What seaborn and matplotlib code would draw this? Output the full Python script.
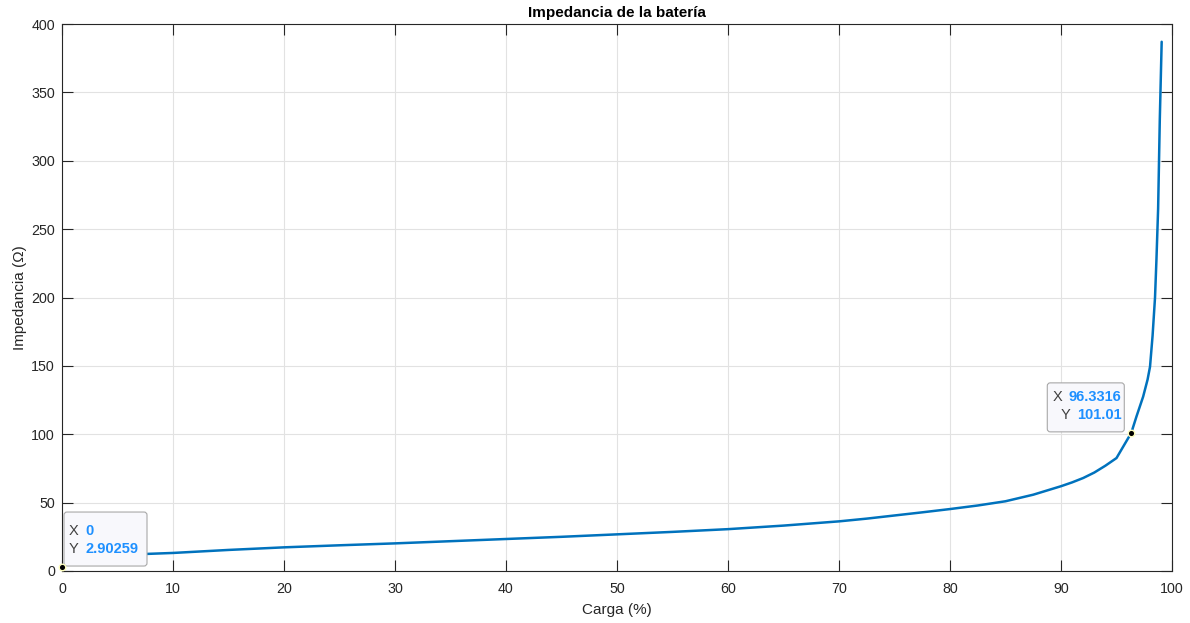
import matplotlib
matplotlib.use("Agg")
import matplotlib.pyplot as plt
import seaborn as sns
import pandas as pd
from matplotlib.offsetbox import TextArea, HPacker, VPacker, AnnotationBbox
from matplotlib.patches import FancyBboxPatch
from matplotlib.transforms import Affine2D

# Battery impedance versus state of charge
carga = [0, 0.5, 1, 2, 3, 5, 7, 10, 15, 20, 25, 30, 35, 40, 45, 50, 55, 60,
         65, 70, 72.5, 75, 77.5, 80, 82.5, 85, 87.5, 90, 91, 92, 93, 94, 95,
         96.3316, 96.8, 97.4, 97.8, 98.02, 98.25, 98.47, 98.6, 98.75, 98.9,
         99.07]
impedancia = [2.90259, 6.5, 8.5, 9.8, 10.6, 11.5, 12.3, 13.2, 15.4, 17.3,
              18.8, 20.2, 21.8, 23.4, 25.0, 26.8, 28.6, 30.6, 33.2, 36.3,
              38.3, 40.6, 42.9, 45.3, 47.9, 51.0, 55.8, 62.0, 64.8, 68.0,
              72.0, 77.0, 82.6, 101.01, 113.0, 127.5, 140.0, 149.4, 172.0,
              200.0, 228.0, 265.0, 330.0, 387.0]

# Data tips: (x, y, shown x text, shown y text)
tips_x = [0, 96.3316]
tips_y = [2.90259, 101.01]
tips_xtxt = ["0", "96.3316"]
tips_ytxt = ["2.90259", "101.01"]

x_ticks = list(range(0, 101, 10))
y_ticks = list(range(0, 401, 50))

df = pd.DataFrame({"Carga": carga, "Impedancia": impedancia})

sns.set_theme(style="whitegrid")
plt.rcParams["font.family"] = ["Liberation Sans", "DejaVu Sans"]

DARK = "#262626"
BLUE = "#0072BD"

fig = plt.figure(figsize=(11.9, 6.23), dpi=100)
ax = fig.add_axes([62 / 1190, 1 - 571 / 623, 1110 / 1190, 547 / 623])
ax.set_facecolor("white")

sns.lineplot(data=df, x="Carga", y="Impedancia", ax=ax, color=BLUE,
             linewidth=1.8, sort=False, estimator=None)

ax.set_xlim(0, 100)
ax.set_ylim(0, 400)
ax.set_xticks(x_ticks)
ax.set_yticks(y_ticks)
ax.set_xticklabels([str(v) for v in x_ticks])
ax.set_yticklabels([str(v) for v in y_ticks])

ax.grid(True, color="#E2E2E2", linewidth=0.8)
for side in ["left", "right", "top", "bottom"]:
    ax.spines[side].set_visible(True)
    ax.spines[side].set_color(DARK)
    ax.spines[side].set_linewidth(0.8)
ax.tick_params(axis="both", which="both", direction="in", length=8,
               width=0.8, color=DARK, labelcolor=DARK, labelsize=10.3,
               top=True, right=True, bottom=True, left=True)
ax.tick_params(axis="x", pad=8)
ax.tick_params(axis="y", pad=5)

ax.set_xlabel("Carga (%)", fontsize=11, color=DARK, labelpad=5)
ax.set_ylabel("Impedancia (Ω)", fontsize=11, color=DARK, labelpad=3)
ax.set_title("Impedancia de la batería", fontsize=11, fontweight="bold",
             color="black", pad=5)

# Data tip markers
ax.scatter(tips_x, tips_y, s=22, color="black", edgecolor="#FFFFC0",
           linewidth=1.0, zorder=8, clip_on=False)

# Data tip boxes, laid out in pixel offsets from the tip point
PT = 72 / 100  # pixels -> points
layouts = [
    dict(box=(2, 1, 83, 54), align="left", anchor=(0, 0.5), text=(7, 27)),
    dict(box=(-84, 1, 77, 49), align="right", anchor=(1, 0.5), text=(-10, 27)),
]
for xv, yv, xt, yt, lay in zip(tips_x, tips_y, tips_xtxt, tips_ytxt, layouts):
    px, py = ax.transData.transform((xv, yv))
    to_px = Affine2D().translate(px, py)
    bx, by, bw, bh = lay["box"]
    patch = FancyBboxPatch((bx, by), bw, bh,
                           boxstyle="round,pad=0,rounding_size=3",
                           transform=to_px, facecolor="#F8F8FC",
                           edgecolor="#A8A8A8", linewidth=0.8, zorder=5,
                           clip_on=False)
    ax.add_artist(patch)

    rows = []
    for lab, val in (("X", xt), ("Y", yt)):
        rows.append(HPacker(children=[
            TextArea(lab, textprops=dict(color="#404040", fontsize=10.5)),
            TextArea(val, textprops=dict(color="#1E90FF", fontsize=10.5,
                                         fontweight="bold")),
        ], align="baseline", pad=0, sep=4.5))
    block = VPacker(children=rows, align=lay["align"], pad=0, sep=2.5)
    tx, ty = lay["text"]
    ab = AnnotationBbox(block, (xv, yv), xybox=(tx * PT, ty * PT),
                        xycoords="data", boxcoords="offset points",
                        box_alignment=lay["anchor"], frameon=False)
    ab.set_zorder(7)
    ax.add_artist(ab)

fig.savefig("out.png", dpi=100, facecolor="white")
